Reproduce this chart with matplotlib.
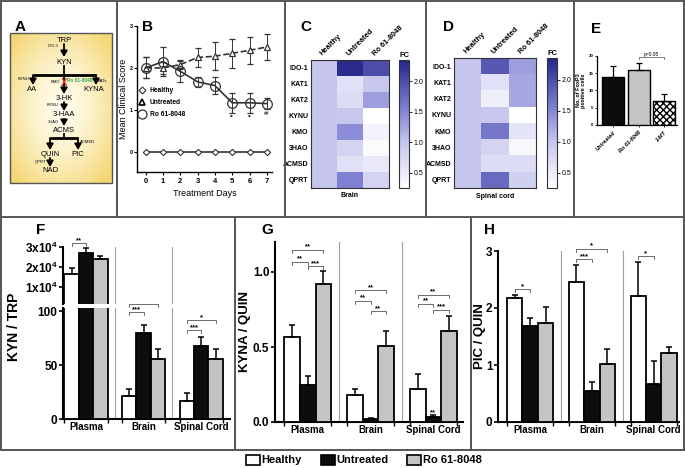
import numpy as np
import matplotlib
matplotlib.use('Agg')
import matplotlib.pyplot as plt
from matplotlib.colors import LinearSegmentedColormap
from matplotlib.lines import Line2D
from matplotlib.patches import Patch, Rectangle

plt.rcParams['font.family'] = ['Liberation Sans', 'DejaVu Sans']
plt.rcParams['mathtext.fontset'] = 'custom'
plt.rcParams['mathtext.rm'] = 'Liberation Sans'
plt.rcParams['mathtext.bf'] = 'Liberation Sans:bold'
plt.rcParams['mathtext.default'] = 'bf'

# ---------------- data ----------------
days = [0, 1, 2, 3, 4, 5, 6, 7]
healthy_score = [0, 0, 0, 0, 0, 0, 0, 0]
untreated_score = [2.0, 2.0, 2.08, 2.25, 2.28, 2.35, 2.42, 2.5]
untreated_err = [0.25, 0.15, 0.1, 0.23, 0.33, 0.34, 0.32, 0.31]
ro_score = [2.0, 2.15, 1.92, 1.67, 1.58, 1.17, 1.17, 1.15]
ro_err = [0.25, 0.35, 0.25, 0.12, 0.21, 0.24, 0.24, 0.14]
sig_days = [5, 6, 7]
sig_day_marks = ['**', '**', '##']

genes = ['IDO-1', 'KAT1', 'KAT2', 'KYNU', 'KMO', '3HAO', 'ACMSD', 'QPRT']
heat_cols = ['Healthy', 'Untreated', 'Ro 61-8048']
brain_healthy = [1.0, 1.0, 1.0, 1.0, 1.0, 1.0, 1.0, 1.0]
brain_untreated = [2.3, 0.65, 0.7, 0.95, 1.45, 0.8, 0.65, 1.55]
brain_ro = [2.0, 0.95, 1.3, 0.25, 0.4, 0.3, 0.55, 0.8]
spinal_healthy = [1.0, 1.0, 1.0, 1.0, 1.0, 1.0, 1.0, 1.0]
spinal_untreated = [1.9, 0.65, 0.45, 0.95, 1.65, 0.8, 0.7, 1.75]
spinal_ro = [1.3, 1.25, 1.25, 0.25, 0.6, 0.35, 0.7, 0.85]

foxp3_groups = ['Untreated', 'Ro 61-8048', '1-MT']
foxp3_vals = [14, 16, 7]
foxp3_err = [3, 2, 2]

tissues = ['Plasma', 'Brain', 'Spinal Cord']
kyn_trp_healthy = [16500, 21, 17]
kyn_trp_healthy_err = [3000, 7, 7]
kyn_trp_untreated = [27000, 80, 68]
kyn_trp_untreated_err = [2500, 7, 8]
kyn_trp_ro = [24000, 56, 56]
kyn_trp_ro_err = [1500, 9, 9]

kyna_quin_healthy = [0.57, 0.18, 0.22]
kyna_quin_healthy_err = [0.08, 0.04, 0.10]
kyna_quin_untreated = [0.25, 0.02, 0.035]
kyna_quin_untreated_err = [0.06, 0.005, 0.01]
kyna_quin_ro = [0.92, 0.51, 0.61]
kyna_quin_ro_err = [0.09, 0.10, 0.10]

pic_quin_healthy = [2.17, 2.45, 2.21]
pic_quin_healthy_err = [0.05, 0.31, 0.59]
pic_quin_untreated = [1.68, 0.55, 0.66]
pic_quin_untreated_err = [0.15, 0.15, 0.41]
pic_quin_ro = [1.73, 1.02, 1.21]
pic_quin_ro_err = [0.28, 0.26, 0.11]

legend_labels = ['Healthy', 'Untreated', 'Ro 61-8048']
bar_colors = ['white', '#0d0d0d', '#c4c4c4']

# ---------------- figure ----------------
W, H = 685, 468
fig = plt.figure(figsize=(W / 100, H / 100), dpi=100)


def px_axes(l, t, r, b):
    return fig.add_axes([l / W, 1 - b / H, (r - l) / W, (b - t) / H])


# ---------- B: clinical score ----------
axB = px_axes(137, 26, 272, 172)
lc = '#333333'
axB.plot(days, healthy_score, '-', color=lc, lw=1.2, marker='D', ms=3.2,
         mfc='white', mec=lc, mew=0.8, zorder=3)
axB.errorbar(days, untreated_score, yerr=untreated_err, fmt='--^', color=lc,
             lw=1.2, ms=5, mfc='white', mec=lc, mew=0.9, ecolor=lc,
             elinewidth=0.7, capsize=2, capthick=0.7, zorder=3)
axB.errorbar(days, ro_score, yerr=ro_err, fmt='-o', color=lc, lw=1.2, ms=7,
             mfc='none', mec=lc, mew=0.9, ecolor=lc, elinewidth=0.7,
             capsize=2, capthick=0.7, zorder=3)
for d, m in zip(sig_days, sig_day_marks):
    i = days.index(d)
    axB.text(d, ro_score[i] - ro_err[i] - 0.04, m, ha='center', va='top',
             fontsize=3.5, fontweight='bold', color=lc)
axB.set_xlim(-0.5, 7.3)
axB.set_ylim(-0.48, 3)
axB.set_xticks(days)
axB.set_yticks([0, 1, 2, 3])
axB.tick_params(axis='x', labelsize=5.5, length=2.5, width=0.8, pad=2)
axB.tick_params(axis='y', labelsize=4, length=2, width=0.8, pad=1)
for lab in axB.get_xticklabels() + axB.get_yticklabels():
    lab.set_fontweight('bold')
for s in ['top', 'right']:
    axB.spines[s].set_visible(False)
for s in ['left', 'bottom']:
    axB.spines[s].set_linewidth(1.0)
axB.set_xlabel('Treatment Days', fontsize=6.5, labelpad=3)
axB.set_ylabel('Mean Clinical Score', fontsize=6.5, labelpad=1)
hB = [Line2D([], [], ls='none', marker='D', ms=3.5, mfc='white', mec=lc, mew=0.8),
      Line2D([], [], ls='none', marker='^', ms=5, mfc='white', mec='k', mew=1.2),
      Line2D([], [], ls='none', marker='o', ms=6.5, mfc='none', mec=lc, mew=0.9)]
legB = axB.legend(hB, legend_labels, loc='upper left',
                  bbox_to_anchor=((139 - 137) / 135, (172 - 87) / 146),
                  frameon=False, prop={'size': 4.8, 'weight': 'bold'},
                  handlelength=1.0, handletextpad=0.6, labelspacing=0.75,
                  borderpad=0, borderaxespad=0)

# ---------- C / D: heatmaps ----------
cmap = LinearSegmentedColormap.from_list(
    'fc', [(0, '#ffffff'), (0.357, '#c5c5ee'), (0.6, '#8585d6'), (1.0, '#26268a')])
vmin, vmax = 0.25, 2.35


def heatmap(l, t, r, b, cl, cr, cols, title):
    ax = px_axes(l, t, r, b)
    data = np.array(cols).T
    im = ax.imshow(data, cmap=cmap, vmin=vmin, vmax=vmax, aspect='auto',
                   interpolation='nearest')
    ax.set_yticks(range(len(genes)))
    ax.set_yticklabels(genes, fontsize=5, fontweight='bold')
    ax.xaxis.tick_top()
    ax.set_xticks(range(len(heat_cols)))
    ax.set_xticklabels(heat_cols, fontsize=5.4, fontweight='bold', rotation=45,
                       ha='left', va='bottom', rotation_mode='anchor')
    ax.tick_params(length=0, pad=2)
    for s in ax.spines.values():
        s.set_linewidth(0.8)
        s.set_color('#333333')
    ax.text(0.5, -0.035, title, transform=ax.transAxes, ha='center', va='top',
            fontsize=5, fontweight='bold')
    cax = px_axes(cl, t, cr, b)
    cb = fig.colorbar(im, cax=cax, ticks=[0.5, 1.0, 1.5, 2.0])
    cb.ax.set_yticklabels(['0.5', '1.0', '1.5', '2.0'])
    cb.ax.tick_params(labelsize=5, length=2, width=0.6, pad=1.5)
    cb.outline.set_linewidth(0.8)
    cb.outline.set_edgecolor('#333333')
    cax.set_title('FC', fontsize=5.5, fontweight='bold', pad=2)
    return ax


heatmap(311, 60, 389, 188, 399, 409,
        [brain_healthy, brain_untreated, brain_ro], 'Brain')
heatmap(454, 58, 536, 188, 547, 557,
        [spinal_healthy, spinal_untreated, spinal_ro], 'Spinal cord')

# ---------- E: FoxP3 ----------
axE = px_axes(597, 56, 677, 125)
xe = np.arange(3)
axE.bar(xe, foxp3_vals, width=0.86, color=['#0d0d0d', '#c4c4c4', 'white'],
        edgecolor='black', linewidth=1.0, hatch=['', '', 'xxxxx'], zorder=3)
axE.errorbar(xe, foxp3_vals, yerr=[np.zeros(3), foxp3_err], fmt='none',
             ecolor='black', elinewidth=0.9, capsize=2.5, capthick=0.9, zorder=4)
axE.set_xlim(-0.63, 2.5)
axE.set_ylim(0, 20)
axE.set_yticks([0, 5, 10, 15, 20])
axE.set_xticks(xe)
axE.set_xticklabels(foxp3_groups, rotation=45, ha='right', rotation_mode='anchor',
                    fontsize=4, fontweight='bold', fontstyle='italic')
axE.tick_params(axis='y', labelsize=3.2, length=1.5, width=0.6, pad=1)
axE.tick_params(axis='x', length=1.5, width=0.6, pad=2)
for lab in axE.get_yticklabels():
    lab.set_fontweight('bold')
for s in ['top', 'right']:
    axE.spines[s].set_visible(False)
for s in ['left', 'bottom']:
    axE.spines[s].set_linewidth(0.9)
axE.set_ylabel('No. of FoxP3\npositive cells', fontsize=4, fontweight='bold',
               labelpad=2, linespacing=1.0)
axE.plot([1, 1, 2, 2], [19.0, 19.6, 19.6, 19.0], color='#444', lw=0.5, clip_on=False)
axE.text(1.5, 19.8, 'p=0.05', ha='center', va='bottom', fontsize=3.5, clip_on=False)

# ---------- bar helpers ----------


def draw_bars(ax, hv, he, uv, ue, rv, re):
    x = np.arange(3)
    w = 0.25
    for off, vals, errs, fc in [(-w, hv, he, bar_colors[0]),
                                (0, uv, ue, bar_colors[1]),
                                (w, rv, re, bar_colors[2])]:
        ax.bar(x + off, vals, width=w, color=fc, edgecolor='black',
               linewidth=1.3, zorder=3)
        ax.errorbar(x + off, vals, yerr=[np.zeros(3), errs], fmt='none',
                    ecolor='black', elinewidth=1.1, capsize=2.5, capthick=1.1,
                    zorder=4)
    ax.axvline(0.5, color='#a0a0a0', lw=0.8, zorder=1)
    ax.axvline(1.5, color='#a0a0a0', lw=0.8, zorder=1)
    for s in ['top', 'right']:
        ax.spines[s].set_visible(False)
    for s in ['left', 'bottom']:
        ax.spines[s].set_linewidth(1.5)


def style_x(ax):
    x = np.arange(3)
    ax.set_xticks(x)
    ax.set_xticklabels(tissues, fontsize=7, fontweight='bold')
    ax.set_xticks(np.concatenate([x - 0.375, x + 0.375]), minor=True)
    ax.tick_params(axis='x', which='major', length=0, pad=2)
    ax.tick_params(axis='x', which='minor', length=3, width=1)


def style_y(ax):
    ax.tick_params(axis='y', labelsize=8.5, length=3, width=1.2, pad=1)
    for lab in ax.get_yticklabels():
        lab.set_fontweight('bold')


def bracket(ax, x1, x2, y, h, txt, fs=5.5):
    ax.plot([x1, x1, x2, x2], [y - h, y, y, y - h], color='#555555', lw=0.6,
            clip_on=False, zorder=5)
    ax.text((x1 + x2) / 2, y - 0.3 * h, txt, ha='center', va='bottom',
            fontsize=fs, fontweight='bold', clip_on=False, zorder=5)


w = 0.25
# ---------- F: KYN/TRP (broken axis) ----------
axF_lo = px_axes(63, 308, 230, 419)
axF_hi = px_axes(63, 247, 230, 304)
for ax in (axF_lo, axF_hi):
    draw_bars(ax, kyn_trp_healthy, kyn_trp_healthy_err, kyn_trp_untreated,
              kyn_trp_untreated_err, kyn_trp_ro, kyn_trp_ro_err)
    ax.set_xlim(-0.4, 2.5)
axF_lo.set_ylim(0, 102.8)
axF_lo.set_yticks([0, 50, 100])
style_x(axF_lo)
style_y(axF_lo)
axF_hi.set_ylim(1500, 30000)
axF_hi.set_yticks([10000, 20000, 30000])
axF_hi.set_yticklabels(['1x10$^{4}$', '2x10$^{4}$', '3x10$^{4}$'])
axF_hi.spines['bottom'].set_visible(False)
axF_hi.set_xticks([])
style_y(axF_hi)
axF_hi.tick_params(axis='y', labelsize=8.5)
axF_lo.set_ylabel('KYN / TRP', fontsize=10, fontweight='bold')
axF_lo.yaxis.set_label_coords(-0.25, 0.83)
bracket(axF_hi, -w, 0, 32000, 1500, '**')
bracket(axF_lo, 1 - w, 1, 99, 2.8, '***')
bracket(axF_lo, 1 - w, 1 + w, 106.5, 2.8, '*')
bracket(axF_lo, 2 - w, 2, 82, 2.8, '***')
bracket(axF_lo, 2 - w, 2 + w, 91.5, 2.8, '*')

# ---------- G: KYNA/QUIN ----------
axG = px_axes(275, 242, 463, 422)
draw_bars(axG, kyna_quin_healthy, kyna_quin_healthy_err, kyna_quin_untreated,
          kyna_quin_untreated_err, kyna_quin_ro, kyna_quin_ro_err)
axG.set_xlim(-0.52, 2.47)
axG.set_ylim(0, 1.2)
axG.set_yticks([0.0, 0.5, 1.0])
axG.set_yticklabels(['0.0', '0.5', '1.0'])
style_x(axG)
style_y(axG)
axG.set_ylabel('KYNA / QUIN', fontsize=9.5, fontweight='bold')
axG.yaxis.set_label_coords(-0.13, 0.5)
gh = 0.022
bracket(axG, -w, 0, 1.07, gh, '**')
bracket(axG, 0, w, 1.04, gh, '***')
bracket(axG, -w, w, 1.15, gh, '**')
bracket(axG, 1 - w, 1, 0.81, gh, '**')
bracket(axG, 1, 1 + w, 0.74, gh, '**')
bracket(axG, 1 - w, 1 + w, 0.88, gh, '**')
bracket(axG, 2 - w, 2, 0.79, gh, '**')
bracket(axG, 2, 2 + w, 0.75, gh, '***')
bracket(axG, 2 - w, 2 + w, 0.85, gh, '**')
axG.text(2, kyna_quin_untreated[2] + kyna_quin_untreated_err[2] - 0.005, '**',
         ha='center', va='bottom', fontsize=5.5, fontweight='bold', zorder=6)

# ---------- H: PIC/QUIN ----------
axH = px_axes(498, 251, 679, 422)
draw_bars(axH, pic_quin_healthy, pic_quin_healthy_err, pic_quin_untreated,
          pic_quin_untreated_err, pic_quin_ro, pic_quin_ro_err)
axH.set_xlim(-0.52, 2.41)
axH.set_ylim(0, 3)
axH.set_yticks([0, 1, 2, 3])
style_x(axH)
style_y(axH)
axH.set_ylabel('PIC / QUIN', fontsize=9.5, fontweight='bold')
axH.yaxis.set_label_coords(-0.065, 0.5)
hh = 0.055
bracket(axH, -w, 0, 2.33, hh, '*')
bracket(axH, 1 - w, 1, 2.86, hh, '***')
bracket(axH, 1 - w, 1 + w, 3.04, hh, '*')
bracket(axH, 2 - w, 2, 2.91, hh, '*')

# ---------- bottom legend ----------
leg_handles = [Patch(facecolor=c, edgecolor='black', linewidth=1.2) for c in bar_colors]
fig.legend(leg_handles, legend_labels, loc='center',
           bbox_to_anchor=(364 / W, 1 - 460 / H), ncol=3, frameon=False,
           prop={'size': 8, 'weight': 'bold'}, handlelength=1.25,
           handleheight=1.0, handletextpad=0.15, columnspacing=1.7,
           borderpad=0, borderaxespad=0)

# ---------- overlay: borders, labels, pathway diagram ----------
ov = fig.add_axes([0, 0, 1, 1])
ov.set_xlim(0, W)
ov.set_ylim(H, 0)
ov.axis('off')
ov.patch.set_alpha(0)
bc = '#555555'
blw = 1.4
for y in (1, 217, 450):
    ov.plot([1, 684], [y, y], color=bc, lw=blw)
ov.plot([1, 1], [1, 450], color=bc, lw=blw)
ov.plot([684, 684], [1, 450], color=bc, lw=blw)
for x in (117, 285, 426, 574):
    ov.plot([x, x], [1, 217], color=bc, lw=blw)
for x in (235, 471):
    ov.plot([x, x], [217, 450], color=bc, lw=blw)

for lab, x, y in [('A', 20, 27), ('B', 148, 27), ('C', 306, 27), ('D', 449, 27),
                  ('E', 596, 29), ('F', 41, 230), ('G', 267, 230), ('H', 490, 230)]:
    ov.text(x, y, lab, ha='center', va='center', fontsize=11, fontweight='bold')

# pathway box with yellow radial gradient
gy, gx = np.mgrid[-1:1:150j, -1:1:102j]
r = np.clip(np.sqrt(gx ** 2 + gy ** 2) / 1.3, 0, 1)
c0 = np.array([1.0, 0.99, 0.92])
c1 = np.array([0.96, 0.84, 0.45])
grad = c0 + (c1 - c0) * (r[..., None] ** 1.6)
ov.imshow(grad, extent=(10, 112, 183, 33), aspect='auto', zorder=1,
          interpolation='bilinear')
ov.add_patch(Rectangle((10, 33), 102, 150, fill=False, ec='#555555', lw=1.0, zorder=2))
ov.set_xlim(0, W)
ov.set_ylim(H, 0)


def t(x, y, s, fs=5.5, **kw):
    ov.text(x, y, s, ha='center', va='center', fontsize=fs, zorder=4, **kw)


def arrow(x, y1, y2):
    ov.annotate('', xy=(x, y2), xytext=(x, y1), zorder=4,
                arrowprops=dict(arrowstyle='-|>,head_length=0.35,head_width=0.2',
                                lw=1.3, color='black', shrinkA=0, shrinkB=0))


t(64, 40, 'TRP')
t(53, 46, 'IDO-1', 3)
arrow(64, 44, 57)
t(64, 62, 'KYN')
ov.plot([64, 64], [66, 75], color='black', lw=1.3, zorder=4)
ov.plot([33, 96], [75, 75], color='black', lw=2.0, zorder=4, solid_capstyle='butt')
arrow(33, 75, 85)
arrow(96, 75, 85)
arrow(64, 75, 94)
t(32, 89.5, 'AA')
t(94, 89.5, 'KYNA')
t(24, 79, 'KYNU', 3)
t(102, 81.5, 'KATs', 3)
t(55, 82, 'KMO', 3)
t(64, 83, 'X', 7, color='#e8302a', fontweight='bold')
t(80, 80, 'Ro 61-8048', 3.4, color='#2fa84f', fontweight='bold')
t(64, 98, '3-HK')
t(53, 105, 'KYNU', 3)
arrow(64, 102, 111)
t(64, 115, '3-HAA')
t(53, 122, '3HAO', 3)
arrow(64, 119, 126)
t(64, 130, 'ACMS')
ov.plot([64, 64], [134, 138], color='black', lw=1.3, zorder=4)
ov.plot([50, 78], [138, 138], color='black', lw=2.0, zorder=4, solid_capstyle='butt')
arrow(50, 138, 150)
arrow(78, 138, 150)
t(88, 142, 'ACMSD', 3)
t(50, 154, 'QUIN')
t(78, 154, 'PIC')
t(41, 162, 'QPRT', 3)
arrow(50, 158, 167)
t(50, 171, 'NAD')

fig.savefig('out.png', dpi=100)
